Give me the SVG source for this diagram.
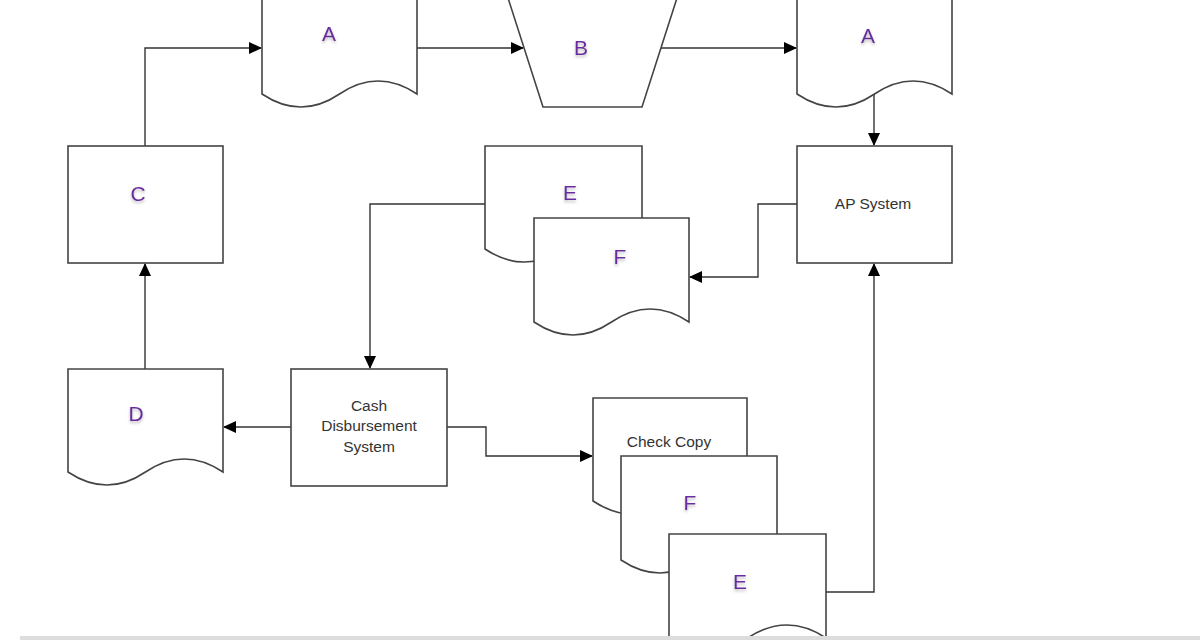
<svg xmlns="http://www.w3.org/2000/svg" width="1200" height="640" viewBox="0 0 1200 640">
<style>
.shape{fill:#fff;stroke:#444;stroke-width:1.6}
.conn{fill:none;stroke:#333;stroke-width:1.4}
.lbl{font-family:"Liberation Sans",Arial,sans-serif;font-size:21px;fill:#6a2ca0;text-anchor:middle;filter:url(#sh)}
.txt{font-family:"Liberation Sans",Arial,sans-serif;font-size:15.5px;fill:#333;text-anchor:middle}
</style>
<defs>
<marker id="arr" markerWidth="13" markerHeight="12" refX="12" refY="6" orient="auto" markerUnits="userSpaceOnUse">
<path d="M0,0 L13,6 L0,12 Z" fill="#000"/>
</marker>
<filter id="sh" x="-50%" y="-50%" width="200%" height="200%">
<feDropShadow dx="0" dy="2" stdDeviation="1.5" flood-color="#888" flood-opacity="0.6"/>
</filter>
</defs>
<rect width="1200" height="640" fill="#fff"/>
<g id="connectors">
<path class="conn" d="M145 146 V48 H261" marker-end="url(#arr)"/>
<path class="conn" d="M417 48 H523" marker-end="url(#arr)"/>
<path class="conn" d="M661 48 H796" marker-end="url(#arr)"/>
<path class="conn" d="M874 90 V145" marker-end="url(#arr)"/>
<path class="conn" d="M797 204 H758 V277 H690" marker-end="url(#arr)"/>
<path class="conn" d="M485 204 H370 V368" marker-end="url(#arr)"/>
<path class="conn" d="M291 427 H224" marker-end="url(#arr)"/>
<path class="conn" d="M145 369 V264" marker-end="url(#arr)"/>
<path class="conn" d="M447 427 H486 V456 H592" marker-end="url(#arr)"/>
<path class="conn" d="M826 592 H874 V264" marker-end="url(#arr)"/>
</g>
<g id="nodeA1">
<path class="shape" d="M262 -5 H417 V94 Q378 68 339.5 94 Q301 120 262 94 Z"/>
<text class="lbl" x="329" y="41">A</text>
</g>
<g id="nodeB">
<path class="shape" d="M508 -2 H677 L642 107 H543 Z"/>
<text class="lbl" x="581" y="55">B</text>
</g>
<g id="nodeA2">
<path class="shape" d="M797 -5 H952 V94 Q913 68 874.5 94 Q836 120 797 94 Z"/>
<text class="lbl" x="868" y="43">A</text>
</g>
<g id="nodeAP">
<rect class="shape" x="797" y="146" width="155" height="117"/>
<text class="txt" x="873" y="209">AP System</text>
</g>
<g id="nodeC">
<rect class="shape" x="68" y="146" width="155" height="117"/>
<text class="lbl" x="138" y="201">C</text>
</g>
<g id="nodeE1">
<path class="shape" d="M485 146 H642 V249 Q603 223 563.5 249 Q524 275 485 249 Z"/>
<text class="lbl" x="570" y="200">E</text>
</g>
<g id="nodeF1">
<path class="shape" d="M534 218 H689 V322 Q650 296 611.5 322 Q573 348 534 322 Z"/>
<text class="lbl" x="620" y="264">F</text>
</g>
<g id="nodeCash">
<rect class="shape" x="291" y="369" width="156" height="117"/>
<text class="txt" x="369" y="411">Cash</text>
<text class="txt" x="369" y="431">Disbursement</text>
<text class="txt" x="369" y="452">System</text>
</g>
<g id="nodeD">
<path class="shape" d="M68 369 H223 V472 Q184 446 145.5 472 Q107 498 68 472 Z"/>
<text class="lbl" x="136" y="421">D</text>
</g>
<g id="nodeCheck">
<path class="shape" d="M593 398 H747 V501 Q708 475 670 501 Q632 527 593 501 Z"/>
<text class="txt" x="669" y="447">Check Copy</text>
</g>
<g id="nodeF2">
<path class="shape" d="M621 456 H777 V560 Q738 534 699 560 Q660 586 621 560 Z"/>
<text class="lbl" x="690" y="510">F</text>
</g>
<g id="nodeE2">
<path class="shape" d="M669 534 H826 V638 Q787 612 747.5 638 Q708 664 669 638 Z"/>
<text class="lbl" x="740" y="589">E</text>
</g>
<rect x="20" y="636" width="1180" height="4" fill="#ddd"/>
</svg>
